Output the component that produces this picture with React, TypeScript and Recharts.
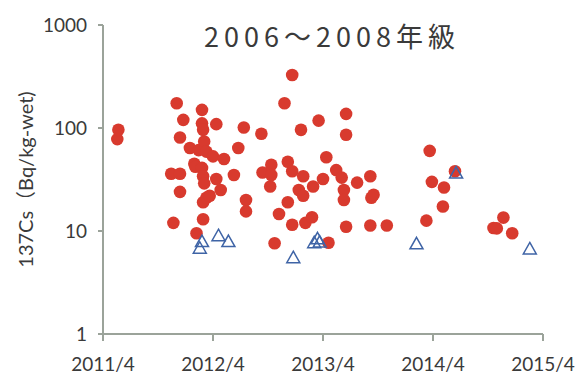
import { ScatterChart, Scatter, XAxis, YAxis } from 'recharts'

// [decimal year, Bq/kg-wet]
const detected: [number, number][] = [
  [2011.38, 78], [2011.39, 96],
  [2011.87, 36], [2011.89, 12], [2011.92, 174], [2011.95, 36], [2011.95, 81], [2011.95, 24], [2011.98, 120],
  [2012.04, 64], [2012.08, 45], [2012.09, 42], [2012.1, 9.5], [2012.12, 61],
  [2012.15, 41], [2012.15, 111], [2012.15, 150], [2012.16, 96], [2012.16, 34], [2012.16, 19], [2012.16, 13],
  [2012.17, 74], [2012.17, 29], [2012.19, 59], [2012.19, 21], [2012.22, 22],
  [2012.25, 53], [2012.28, 32], [2012.28, 109], [2012.32, 25], [2012.35, 50],
  [2012.44, 35], [2012.48, 64], [2012.53, 101], [2012.55, 20], [2012.55, 15.5],
  [2012.69, 88], [2012.7, 37],
  [2012.77, 27], [2012.78, 44], [2012.78, 35], [2012.81, 7.6], [2012.85, 14.6],
  [2012.9, 174], [2012.93, 47], [2012.93, 19], [2012.97, 327], [2012.97, 38], [2012.97, 11.5],
  [2013.03, 25], [2013.05, 96], [2013.07, 34], [2013.07, 22], [2013.09, 12], [2013.15, 13.6], [2013.16, 27],
  [2013.21, 118], [2013.25, 32], [2013.28, 52], [2013.3, 7.7],
  [2013.37, 39], [2013.42, 33], [2013.44, 25], [2013.44, 20], [2013.46, 137], [2013.46, 11], [2013.46, 86],
  [2013.56, 29.5],
  [2013.68, 34], [2013.68, 11.3], [2013.69, 21], [2013.71, 22.5],
  [2013.83, 11.3],
  [2014.19, 12.6], [2014.22, 60], [2014.24, 30], [2014.34, 17.3], [2014.35, 26.4], [2014.45, 38],
  [2014.8, 10.7], [2014.83, 10.6], [2014.89, 13.5], [2014.97, 9.5],
]

// below detection limit (open triangles)
const belowLimit: [number, number][] = [
  [2012.13, 6.8], [2012.15, 7.9], [2012.3, 9.0], [2012.39, 7.9], [2012.98, 5.5],
  [2013.17, 7.7], [2013.2, 8.4], [2013.22, 7.8], [2014.1, 7.5], [2014.46, 36.5], [2015.13, 6.7],
]

const xTicks = [2011.25, 2012.25, 2013.25, 2014.25, 2015.25]
const xTickLabels = ['2011/4', '2012/4', '2013/4', '2014/4', '2015/4']
const yTicks = [1, 10, 100, 1000]

const title = '2006～2008年級'
const yLabel = '137Cs（Bq/kg-wet)'

const toRows = (pts: [number, number][]) => pts.map(([date, value]) => ({ date, value }))

const axisColor = '#9ba39a'
const tickFont = { fill: '#3a3a3a', fontSize: 19, fontFamily: 'Lato' }

const Dot = (p: any) => <circle cx={p.cx} cy={p.cy} r={6.3} fill="#d83a2e" />

const Tri = (p: any) => (
  <path
    d={`M${p.cx},${p.cy - 6.5} L${p.cx + 6.5},${p.cy + 5} L${p.cx - 6.5},${p.cy + 5} Z`}
    fill="none"
    stroke="#3f64a6"
    strokeWidth={1.5}
  />
)

export default function App() {
  return (
    <div style={{ position: 'fixed', left: 0, top: 0, background: '#fff' }}>
      <ScatterChart width={579} height={382} margin={{ top: 25, right: 36, bottom: 0, left: 0 }}>
        <XAxis
          type="number"
          dataKey="date"
          domain={[2011.25, 2015.25]}
          ticks={xTicks}
          tickFormatter={(v: number) => xTickLabels[xTicks.indexOf(v)] ?? ''}
          height={48}
          stroke={axisColor}
          strokeWidth={2}
          tickSize={7}
          tickMargin={17}
          tick={tickFont}
          allowDataOverflow
        />
        <YAxis
          type="number"
          dataKey="value"
          scale="log"
          domain={[1, 1000]}
          ticks={yTicks}
          width={103}
          stroke={axisColor}
          strokeWidth={2}
          tickSize={5}
          tickMargin={11}
          tick={tickFont}
          allowDataOverflow
          label={{
            value: yLabel,
            angle: -90,
            position: 'insideLeft',
            offset: 26,
            style: { textAnchor: 'middle', fill: '#3a3a3a', fontSize: 20, fontFamily: 'Lato, "Noto Sans CJK JP"' },
          }}
        />
        <Scatter data={toRows(detected)} shape={Dot} isAnimationActive={false} />
        <Scatter data={toRows(belowLimit)} shape={Tri} isAnimationActive={false} />
        <text
          x={332}
          y={47}
          textAnchor="middle"
          fill="#3a3a3a"
          fontSize={27}
          letterSpacing={5}
          fontFamily='"Noto Sans CJK JP"'
        >
          {title}
        </text>
      </ScatterChart>
    </div>
  )
}
